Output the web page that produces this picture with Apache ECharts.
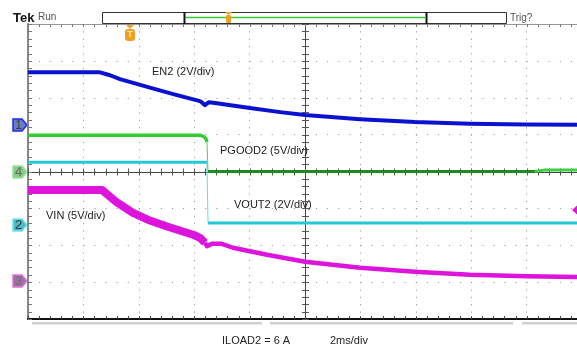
<!DOCTYPE html>
<html><head><meta charset="utf-8">
<script src="https://cdn.jsdelivr.net/npm/echarts@6/dist/echarts.min.js"></script>
<style>html,body{margin:0;padding:0;background:#fff}#c{width:577px;height:350px}</style>
</head><body><div id="c"></div>
<script>
// Time base: 2 ms/div, time in ms from left edge of the graticule (screen shows 0 .. 19.82 ms)
// EN2 (CH1, 2 V/div), volts
const en2T = [0, 2.60, 2.96, 3.32, 4.40, 5.31, 6.21, 6.39, 6.53, 6.75, 8.01, 9.10, 10.00, 11.99, 13.97, 15.96, 18.01, 19.82];
const en2V = [2.86, 2.86, 2.70, 2.49, 2.03, 1.65, 1.30, 1.08, 1.24, 1.19, 0.92, 0.70, 0.54, 0.32, 0.16, 0.07, 0.03, 0.02];
// PGOOD2 (CH4, 5 V/div), volts
const pgoodT = [0, 6.21, 6.35, 6.43, 6.46, 6.50, 12.00, 18.30, 18.66, 19.82];
const pgoodV = [4.93, 4.93, 4.73, 4.39, 3.99, 0, 0, 0, 0.20, 0.20];
// VOUT2 (CH2, 2 V/div), volts
const voutT = [0, 6.46, 6.50, 19.82];
const voutV = [3.40, 3.40, 0.11, 0.11];
// VIN (CH3, 5 V/div), volts
const vinT = [0, 2.67, 3.21, 3.79, 4.40, 5.02, 5.96, 6.21, 6.39, 6.46, 6.64, 7.00, 7.40, 8.63, 10.00, 11.99, 13.97, 15.96, 18.01, 19.82];
const vinV = [12.3, 12.3, 10.6, 9.19, 8.15, 7.34, 6.22, 5.81, 5.14, 4.66, 5.00, 5.00, 4.46, 3.51, 2.57, 1.76, 1.22, 0.81, 0.61, 0.50];
// channel settings: volts per division and reference offset (divisions from center)
const chScale = [2, 5, 2, 5];
const chOffset = [1.26, 0, -1.45, -2.96];
const T_MAX = 19.82;

function pts(T, V, k, i0, i1) {
  const out = [];
  for (let i = i0; i <= i1; i++) out.push([T[i], chOffset[k] + V[i] / chScale[k]]);
  return out;
}
function lineSeries(data, color, width, z) {
  return { type: 'line', data: data, showSymbol: false, silent: true, z: z || 3,
    lineStyle: { color: color, width: width, join: 'round' } };
}

function reticle(params, api) {
  const ch = [];
  const p = (x, y) => api.coord([x, y]);
  const ln = (x1, y1, x2, y2, c, w) => ch.push({ type: 'line', shape: { x1, y1, x2, y2 }, style: { stroke: c, lineWidth: w } });
  const r = v => Math.round(v) + 0.5;
  let a = p(10, -4), b = p(10, 4);
  ln(r(a[0]), a[1], r(a[0]), b[1], '#444', 1);
  a = p(0, 0); b = p(T_MAX, 0);
  ln(a[0], r(a[1]), b[0], r(a[1]), '#444', 1);
  a = p(0, 4); b = p(T_MAX, 4);
  ln(a[0], r(a[1]), b[0], r(a[1]), '#9a9a9a', 1);
  for (let i = 0; i <= 40; i++) {
    const y = -4 + i * 0.2;
    const q = p(10, y);
    ln(q[0] - 3, r(q[1]), q[0] + 4, r(q[1]), '#555', 1);
    const l = p(0, y);
    ln(l[0], r(l[1]), l[0] + 4, r(l[1]), '#777', 1);
  }
  for (let i = 0; i * 0.4 <= T_MAX; i++) {
    const x = i * 0.4;
    const c = p(x, 0);
    ln(r(c[0]), c[1] - 3, r(c[0]), c[1] + 4, '#555', 1);
    const t = p(x, 4);
    ln(r(t[0]), t[1], r(t[0]), t[1] + 3, '#777', 1);
    const bt = p(x, -4);
    ln(r(bt[0]), bt[1] - 3, r(bt[0]), bt[1], '#444', 1);
  }
  return { type: 'group', children: ch };
}

const chart = echarts.init(document.getElementById('c'), null, { renderer: 'canvas' });
const FONT = '"Liberation Sans", Arial, sans-serif';
function txt(x, y, s, size, color, weight, align) {
  return { type: 'text', x: x, y: y, style: { text: s, fill: color || '#222', font: (weight || 'normal') + ' ' + (size || 11) + 'px ' + FONT, textAlign: align || 'left', textVerticalAlign: 'middle' }, z: 20 };
}
function marker(y, label, fill, stroke, tc) {
  return { type: 'group', z: 20, children: [
    { type: 'polygon', shape: { points: [[13, y - 6], [22, y - 6], [27, y], [22, y + 6], [13, y + 6]] }, style: { fill: fill, stroke: stroke, lineWidth: 1.5 } },
    { type: 'text', x: 18.5, y: y + 0.5, style: { text: label, fill: tc, font: '13px ' + FONT, textAlign: 'center', textVerticalAlign: 'middle' } }
  ] };
}

const nE = en2T.length - 1, nV = vinT.length - 1;
const option = {
  animation: false,
  grid: { left: 28, top: 24, width: 549, height: 295, show: false, containLabel: false },
  xAxis: { type: 'value', min: 0, max: T_MAX, interval: 2,
    axisLine: { onZero: false, lineStyle: { color: '#111', width: 2 } },
    axisTick: { show: false }, axisLabel: { show: false },
    splitLine: { show: true, showMaxLine: false, lineStyle: { color: '#8c8c8c', width: 1, type: [1, 6.375] } } },
  yAxis: { type: 'value', min: -4, max: 4, interval: 1,
    axisLine: { show: true, onZero: false, lineStyle: { color: '#858585', width: 2 } },
    axisTick: { show: false }, axisLabel: { show: false },
    splitLine: { show: true, lineStyle: { color: '#8c8c8c', width: 1, type: [1, 10.08] } } },
  series: [
    { type: 'custom', renderItem: reticle, data: [[10, 0]], silent: true, z: 1 },
    lineSeries(pts(voutT, voutV, 2, 0, 1), '#22c8d4', 3, 3),
    lineSeries(pts(voutT, voutV, 2, 1, 2), '#5fdbe3', 1, 3),
    lineSeries(pts(voutT, voutV, 2, 2, 3), '#22c8d4', 3, 3),
    lineSeries(pts(pgoodT, pgoodV, 1, 0, 4), '#33cc33', 3.5, 4),
    lineSeries(pts(pgoodT, pgoodV, 1, 4, 5), '#55cc55', 1, 4),
    lineSeries(pts(pgoodT, pgoodV, 1, 5, 7), '#1f8a1f', 3, 4),
    lineSeries(pts(pgoodT, pgoodV, 1, 7, 9), '#3fd03f', 3, 4),
    lineSeries(pts(vinT, vinV, 3, 0, 8), '#dc14dc', 8, 5),
    lineSeries(pts(vinT, vinV, 3, 8, nV), '#dc14dc', 4.5, 5),
    lineSeries(pts(en2T, en2V, 0, 0, nE), '#0b12cf', 4, 6)
  ],
  graphic: [
    txt(13, 18, 'Tek', 13, '#111', 'bold'),
    txt(38, 17, 'Run', 10, '#555'),
    { type: 'rect', shape: { x: 102.5, y: 12.5, width: 404, height: 11 }, style: { fill: '#fff', stroke: '#333', lineWidth: 1 }, z: 18 },
    { type: 'line', shape: { x1: 184.5, y1: 12, x2: 184.5, y2: 24 }, style: { stroke: '#111', lineWidth: 2 }, z: 19 },
    { type: 'line', shape: { x1: 426.5, y1: 12, x2: 426.5, y2: 24 }, style: { stroke: '#111', lineWidth: 2 }, z: 19 },
    { type: 'line', shape: { x1: 186, y1: 17.5, x2: 425, y2: 17.5 }, style: { stroke: '#33cc33', lineWidth: 1.5 }, z: 19 },
    { type: 'polygon', shape: { points: [[225, 12], [232, 12], [228.5, 15]] }, style: { fill: '#f0a020' }, z: 20 },
    { type: 'rect', shape: { x: 226, y: 15, width: 5, height: 8, r: 1.5 }, style: { fill: '#f0a020' }, z: 20 },
    txt(510, 18, 'Trig?', 10, '#555'),
    { type: 'polygon', shape: { points: [[126, 25], [134, 25], [130, 29]] }, style: { fill: '#f0a020' }, z: 20 },
    { type: 'rect', shape: { x: 125, y: 29, width: 10, height: 12, r: 3 }, style: { fill: '#f0a020' }, z: 20 },
    { type: 'text', x: 130, y: 35, style: { text: 'T', fill: '#ffe3a8', font: 'bold 9px ' + FONT, textAlign: 'center', textVerticalAlign: 'middle' }, z: 21 },
    marker(125, '1', '#6e7cc0', '#1a2aee', '#404040'),
    marker(172, '4', '#86c986', '#9ee09e', '#6a6a6a'),
    marker(225, '2', '#4fb8c0', '#6ee8ee', '#3a3a3a'),
    marker(281, '3', '#a070a0', '#e070e0', '#707070'),
    { type: 'polygon', shape: { points: [[572, 210], [577, 205.5], [577, 214.5]] }, style: { fill: '#dc14dc' }, z: 20 },
    { type: 'rect', shape: { x: 32, y: 322, width: 230, height: 2.5 }, style: { fill: '#cfcfcf' }, z: 10 },
    { type: 'rect', shape: { x: 270, y: 322, width: 243, height: 2.5 }, style: { fill: '#cfcfcf' }, z: 10 },
    { type: 'rect', shape: { x: 522, y: 322, width: 60, height: 2.5 }, style: { fill: '#cfcfcf' }, z: 10 },
    txt(152, 72, 'EN2 (2V/div)', 11, '#222'),
    txt(220, 151, 'PGOOD2 (5V/div)', 11, '#222'),
    txt(234, 205, 'VOUT2 (2V/div)', 11, '#222'),
    txt(46, 216, 'VIN (5V/div)', 11, '#222'),
    txt(222, 341, 'ILOAD2 = 6 A', 11, '#222'),
    txt(330, 341, '2ms/div', 11, '#222')
  ]
};
chart.setOption(option);
</script>
</body></html>
